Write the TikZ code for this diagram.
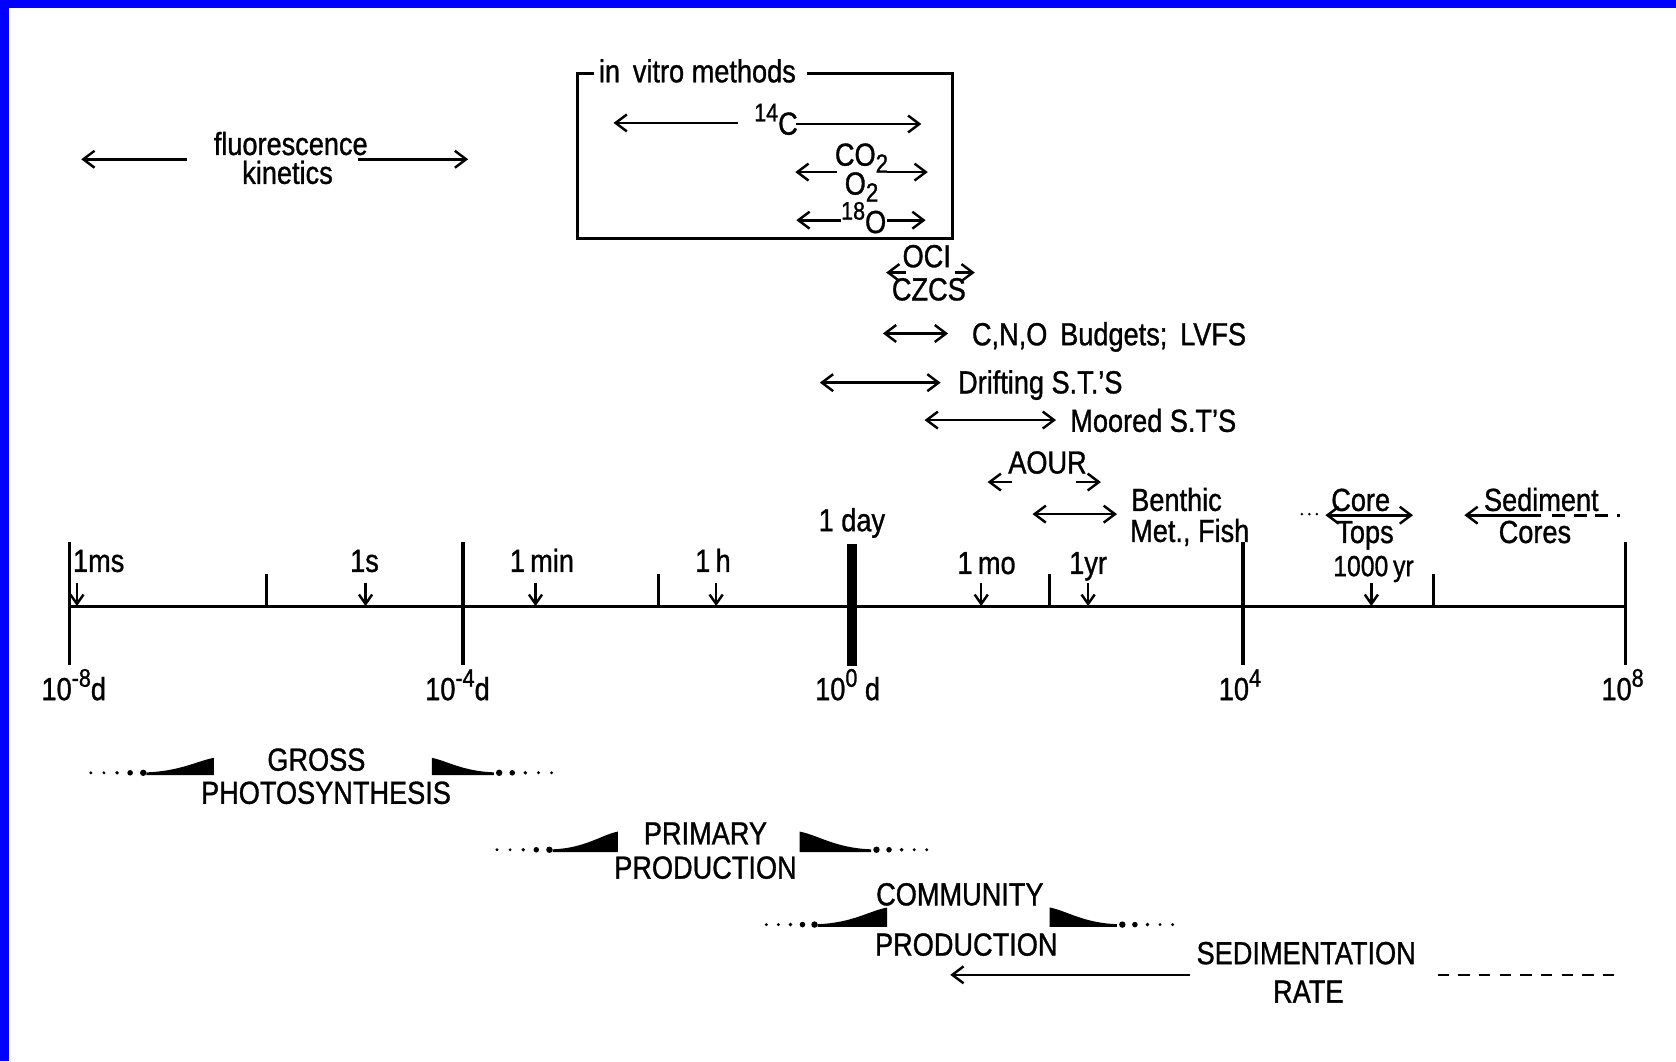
\documentclass[tikz,border=0pt]{standalone}
\usepackage{fontspec}
\setmainfont{Liberation Sans}[FakeStretch=0.85, FakeBold=1.0]
\usetikzlibrary{arrows.meta}
\newcommand\myup[1]{\raisebox{0.42em}{\fontsize{13.5}{14}\selectfont #1}}
\newcommand\mydn[1]{\raisebox{-0.22em}{\fontsize{14}{14}\selectfont #1}}
\newcommand\wedgeL[4]{% x0, x1, ybottom, ytop
  \fill ({#1},{#3+1.2}) -- ({#1},{#3-1.4}) .. controls ({#1+0.5*(#2-#1)},{#3-2.5}) and ({#2-0.25*(#2-#1)},{#4+3}) .. ({#2},{#4}) -- ({#2},{#3+1.2}) -- cycle;}
\newcommand\wedgeR[4]{% x0 (tall side), x1, ybottom, ytop
  \fill ({#1},{#3+1.2}) -- ({#1},{#4}) .. controls ({#1+0.25*(#2-#1)},{#4+3}) and ({#2-0.5*(#2-#1)},{#3-2.5}) .. ({#2},{#3-1.4}) -- ({#2},{#3+1.2}) -- cycle;}
\newcommand\leadL[3]{% xa, xb, y : dots growing to the right
  \foreach \i/\r in {0/1.5,1/1.5,2/1.8,3/2.6,4/3.0}{\fill ({#1+\i*(#2-#1)/4},#3) circle[radius=\r];}}
\newcommand\leadR[3]{% xa, xb, y : dots shrinking to the right
  \foreach \i/\r in {0/3.0,1/2.6,2/1.8,3/1.5,4/1.5}{\fill ({#1+\i*(#2-#1)/4},#3) circle[radius=\r];}}
\tikzset{
  lab/.style={font=\fontsize{17}{19}\selectfont, inner sep=0pt, anchor=base},
  ln/.style={line width=1.4pt},
  tipb/.tip={Straight Barb[length=6pt,width=9pt,line width=1.3pt]},
  dbl/.style={ln, tipb-tipb},
  sgl/.style={ln, -tipb},
  major/.style={line width=1.8pt},
  minor/.style={line width=1.5pt},
  down/.style={line width=1.3pt, -{Straight Barb[length=5pt,width=7pt]}},
}
\begin{document}
\begin{tikzpicture}[x=0.02cm, y=-0.02cm]
\useasboundingbox (0,0) rectangle (1568,993);
\fill[white] (0,0) rectangle (1568,993);
% blue frame (top and left)
\fill[blue] (0,0) rectangle (1568,7.5);
\fill[blue] (0,0) rectangle (8.4,993);

% ---------------- time axis ----------------
\coordinate (axL) at (65,567);
\coordinate (axR) at (1522,567);
\draw[line width=1.6pt] (axL) -- (axR);
\foreach \n/\x in {m8/65, m4/433, p4/1163, p8/1521}{
  \coordinate (t\n a) at (\x,507);
  \coordinate (t\n b) at (\x,622);
  \draw[major] (t\n a) -- (t\n b);
}
\fill (792,509) rectangle (802,623);
\foreach \n/\x in {a/249, b/616, c/982, d/1341}{
  \coordinate (s\n a) at (\x,537);
  \coordinate (s\n b) at (\x,567);
  \draw[minor] (s\n a) -- (s\n b);
}
\foreach \n/\x in {ms/72, s/342, min/501, h/670, mo/918, yr/1018, ky/1283}{
  \coordinate (d\n a) at (\x,545);
  \coordinate (d\n b) at (\x,567);
  \draw[down] (d\n a) -- (d\n b);
}
% axis labels above
\node[lab, anchor=base west] (l1ms) at (68,535) {1ms};
\node[lab] (l1s) at (341,535) {1s};
\node[lab] (l1min) at (507,535) {1\,min};
\node[lab] (l1h) at (667,535) {1\,h};
\node[lab] (l1day) at (797,497) {1 day};
\node[lab] (l1mo) at (923,537) {1\,mo};
\node[lab] (l1yr) at (1018,537) {1yr};
\node[lab, font=\fontsize{15.5}{18}\selectfont] (l1000) at (1285,539) {1000\,yr};
% axis labels below
\node[lab] (e1) at (69,655) {10\myup{-8}d};
\node[lab] (e2) at (428,655) {10\myup{-4}d};
\node[lab] (e3) at (793,655) {10\myup{0} d};
\node[lab] (e4) at (1160,655) {10\myup{4}};
\node[lab] (e5) at (1518,655) {10\myup{8}};

% ---------------- upper methods ----------------
\node[lab] (fluo) at (272,145) {fluorescence};
\node[lab] (kin) at (269,172) {kinetics};
\coordinate (fla) at (175,149); \coordinate (flb) at (76,149);
\coordinate (flc) at (335,149); \coordinate (fld) at (438,149);
\draw[sgl] (fla) -- (flb);
\draw[sgl] (flc) -- (fld);

% in vitro box
\node[lab, anchor=base west] (vitro) at (560,77) {in\, vitro methods};
\coordinate (bxA) at (556,69); \coordinate (bxB) at (540,69);
\coordinate (bxC) at (540,223); \coordinate (bxD) at (891,223);
\coordinate (bxE) at (891,69); \coordinate (bxF) at (755,69);
\draw[ln] (bxA) -- (bxB) -- (bxC) -- (bxD) -- (bxE) -- (bxF);

\node[lab] (c14) at (726,126) {\myup{14}C};
\coordinate (c14a) at (690,115); \coordinate (c14b) at (574,115);
\coordinate (c14c) at (745,116); \coordinate (c14d) at (862,116);
\draw[sgl] (c14a) -- (c14b);
\draw[sgl] (c14c) -- (c14d);

\node[lab] (co2) at (806,155) {CO\mydn{2}};
\node[lab] (o2) at (806,182) {O\mydn{2}};
\coordinate (co2a) at (783,161); \coordinate (co2b) at (744,161);
\coordinate (co2c) at (830,161); \coordinate (co2d) at (868,161);
\draw[sgl] (co2a) -- (co2b);
\draw[sgl] (co2c) -- (co2d);

\node[lab] (o18) at (808,218) {\myup{18}O};
\coordinate (o18a) at (787,206); \coordinate (o18b) at (745,206);
\coordinate (o18c) at (830,206); \coordinate (o18d) at (866,206);
\draw[sgl] (o18a) -- (o18b);
\draw[sgl] (o18c) -- (o18d);

% satellites
\node[lab] (oci) at (867,250) {OCI};
\node[lab] (czcs) at (869,281) {CZCS};
\coordinate (ocia) at (848,255); \coordinate (ocib) at (829,255);
\coordinate (ocic) at (893,255); \coordinate (ocid) at (912,255);
\draw[sgl] (ocia) -- (ocib);
\draw[sgl] (ocic) -- (ocid);

% budgets, traps
\node[lab, anchor=base west] (budg) at (909,323) {C,N,O\, Budgets;\, LVFS};
\coordinate (bga) at (826,312); \coordinate (bgb) at (887,312);
\draw[dbl] (bga) -- (bgb);

\node[lab, anchor=base west] (drift) at (896,368) {Drifting S.T.'S};
\coordinate (dra) at (767,358); \coordinate (drb) at (880,358);
\draw[dbl] (dra) -- (drb);

\node[lab, anchor=base west] (moor) at (1001,404) {Moored S.T'S};
\coordinate (moa) at (865,393); \coordinate (mob) at (988,393);
\draw[dbl] (moa) -- (mob);

\node[lab] (aour) at (980,443) {AOUR};
\coordinate (aoa) at (947,451); \coordinate (aob) at (924,451);
\coordinate (aoc) at (1007,451); \coordinate (aod) at (1030,451);
\draw[sgl] (aoa) -- (aob);
\draw[sgl] (aoc) -- (aod);

\node[lab, anchor=base west] (benth) at (1058,478) {Benthic};
\node[lab, anchor=base west] (metf) at (1057,507) {Met., Fish};
\coordinate (bea) at (966,481); \coordinate (beb) at (1045,481);
\draw[dbl] (bea) -- (beb);

\node[lab] (core) at (1273,478) {Core};
\node[lab] (tops) at (1277,508) {Tops};
\foreach \x in {1218,1225,1232}{\fill (\x,481) circle[radius=1.3];}
\coordinate (cta) at (1240,482); \coordinate (ctb) at (1322,482);
\draw[dbl] (cta) -- (ctb);

\node[lab] (sedi) at (1442,478) {Sediment};
\node[lab] (cores) at (1436,508) {Cores};
\coordinate (sca) at (1442,482); \coordinate (scb) at (1370,482);
\coordinate (scc) at (1452,482); \coordinate (scd) at (1516,482);
\draw[sgl] (sca) -- (scb);
\draw[ln, dash pattern=on 7pt off 4.5pt] (scc) -- (scd);

% ---------------- processes ----------------
\node[lab] (gross) at (296,721) {GROSS};
\node[lab] (photo) at (305,752) {PHOTOSYNTHESIS};
\leadL{85}{134}{723}
\wedgeL{137}{200}{724}{709}
\wedgeR{404}{462}{724}{709}
\leadR{467}{516}{723}

\node[lab] (prim) at (660,790) {PRIMARY};
\node[lab] (prod1) at (660,822) {PRODUCTION};
\leadL{465}{514}{795}
\wedgeL{517}{578}{796}{778}
\wedgeR{748}{815}{796}{778}
\leadR{820}{867}{795}

\node[lab] (comm) at (898,847) {COMMUNITY};
\node[lab] (prod2) at (904,894) {PRODUCTION};
\leadL{717}{762}{865}
\wedgeL{765}{830}{866}{849}
\wedgeR{982}{1045}{866}{849}
\leadR{1050}{1097}{865}

\node[lab] (sedr) at (1222,902) {SEDIMENTATION};
\node[lab] (rate) at (1224,938) {RATE};
\coordinate (sra) at (1113,912); \coordinate (srb) at (889,912);
\coordinate (src) at (1345,912); \coordinate (srd) at (1512,912);
\draw[sgl] (sra) -- (srb);
\draw[ln, dash pattern=on 6pt off 5pt] (src) -- (srd);
\end{tikzpicture}
\end{document}
